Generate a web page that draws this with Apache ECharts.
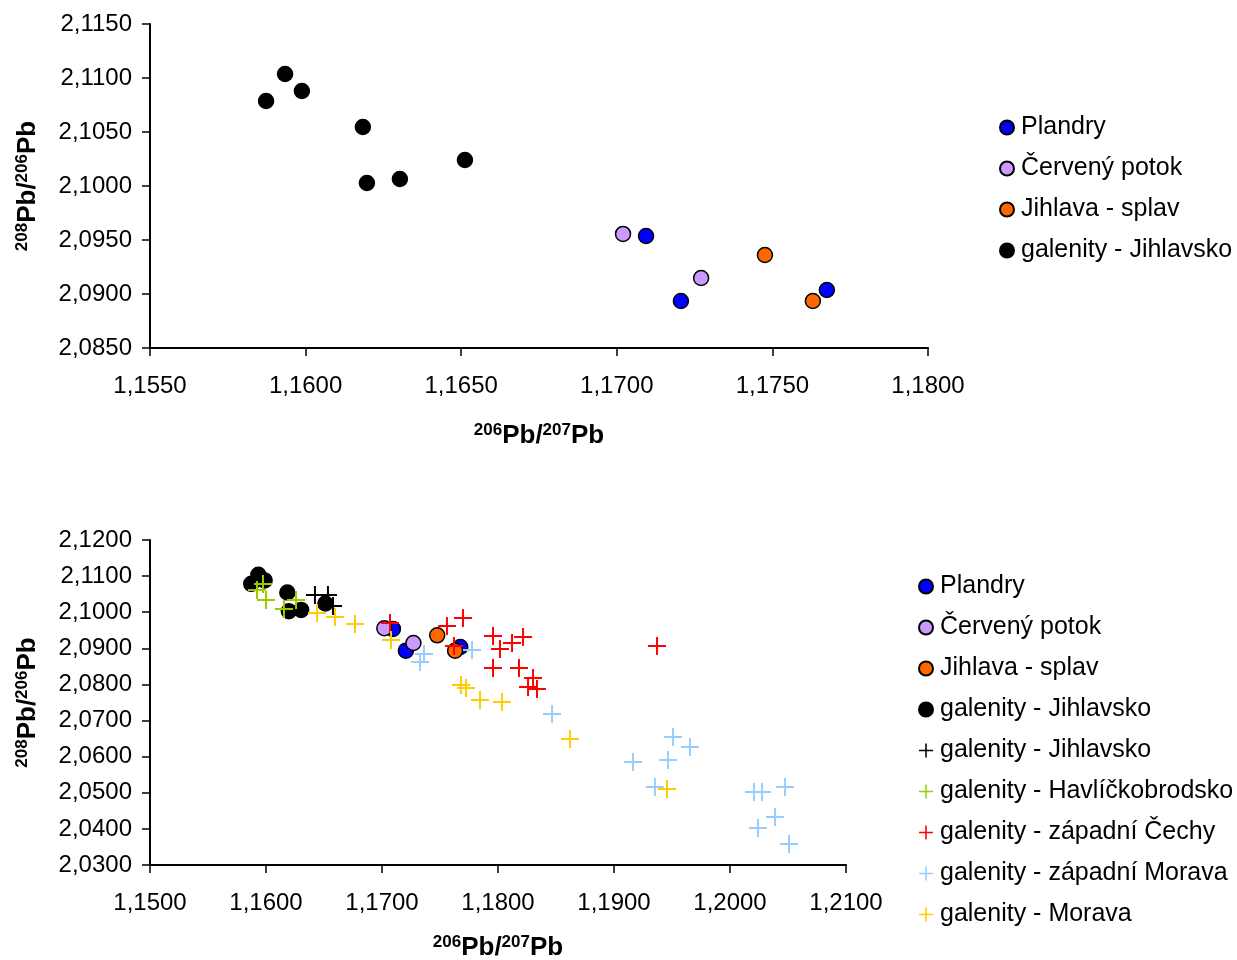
<!DOCTYPE html>
<html>
<head>
<meta charset="utf-8">
<script src="https://cdn.jsdelivr.net/npm/echarts@6/dist/echarts.min.js"></script>
<style>html,body{margin:0;padding:0;background:#fff;}#c{width:1237px;height:960px;}</style>
</head>
<body>
<div id="c"></div>
<script>
// ---- data: [206Pb/207Pb, 208Pb/206Pb] ----
const plandry = [[1.17094, 2.09537], [1.17206, 2.08935], [1.17675, 2.09037]];
const cervenyPotok = [[1.17020, 2.09556], [1.17271, 2.09148]];
const jihlavaSplav = [[1.17476, 2.09361], [1.17630, 2.08935]];
const galenityJihlavskoCircle = [
  [1.15873, 2.10787], [1.15934, 2.11037], [1.15988, 2.10880], [1.16184, 2.10546],
  [1.16197, 2.10028], [1.16303, 2.10065], [1.16512, 2.10241]
];
const galenityJihlavskoPlus = [[1.16422, 2.10476], [1.16534, 2.10476], [1.16578, 2.10172]];
const galenityHavlickobrodsko = [
  [1.15922, 2.10615], [1.15974, 2.10781], [1.16000, 2.10338], [1.16155, 2.10089], [1.16259, 2.10338]
];
const galenityZapadniCechy = [
  [1.17069, 2.09701], [1.17560, 2.09618], [1.17698, 2.09839], [1.17621, 2.09064],
  [1.17957, 2.09341], [1.18017, 2.08981], [1.18121, 2.09147], [1.18216, 2.09313],
  [1.17957, 2.08454], [1.18181, 2.08454], [1.18302, 2.08177], [1.18259, 2.07928],
  [1.18336, 2.07873], [1.19371, 2.09064]
];
const galenityZapadniMorava = [
  [1.17362, 2.08842], [1.17328, 2.08620], [1.17776, 2.08953], [1.18466, 2.07180],
  [1.19509, 2.06543], [1.19655, 2.06266], [1.19164, 2.05850], [1.19466, 2.05906],
  [1.19353, 2.05158], [1.20207, 2.05019], [1.20276, 2.05019], [1.20474, 2.05158],
  [1.20388, 2.04327], [1.20241, 2.04022], [1.20509, 2.03579]
];
const galenityMorava = [
  [1.16440, 2.09978], [1.16595, 2.09867], [1.16767, 2.09673], [1.17078, 2.09230],
  [1.17681, 2.07983], [1.17724, 2.07900], [1.17845, 2.07568], [1.18034, 2.07512],
  [1.18621, 2.06488], [1.19457, 2.05102]
];

const circleNames = ['Plandry', 'Červený potok', 'Jihlava - splav', 'galenity - Jihlavsko'];
const plusNames = ['galenity - Jihlavsko\u200b', 'galenity - Havlíčkobrodsko', 'galenity - západní Čechy', 'galenity - západní Morava', 'galenity - Morava'];
const circleColors = ['#0000ff', '#cc99ff', '#ff6600', '#000000'];
const plusColors = ['#000000', '#99cc00', '#ff0000', '#99ccff', '#ffcc00'];
const circleData = [plandry, cervenyPotok, jihlavaSplav, galenityJihlavskoCircle];
const plusData = [galenityJihlavskoPlus, galenityHavlickobrodsko, galenityZapadniCechy, galenityZapadniMorava, galenityMorava];

// axis ranges
const topX = {min: 1.155, max: 1.18, interval: 0.005};
const topY = {min: 2.085, max: 2.115, interval: 0.005};
const botX = {min: 1.15, max: 1.21, interval: 0.01};
const botY = {min: 2.03, max: 2.12, interval: 0.01};

const FONT = '"Liberation Sans", Arial, sans-serif';
const PLUS = 'path://M0,4.45H10V5.55H0Z M4.45,0H5.55V10H4.45Z';
const fmt = v => v.toFixed(4).replace('.', ',');

const nameRich = {
  s: {fontSize: 17, fontWeight: 'bold', fontFamily: FONT, color: '#000', padding: [0, 0, 11, 0]},
  b: {fontSize: 26, fontWeight: 'bold', fontFamily: FONT, color: '#000'}
};

function xAxis(idx, r, gap) {
  return {
    type: 'value', gridIndex: idx, min: r.min, max: r.max, interval: r.interval,
    name: '{s|206}{b|Pb/}{s|207}{b|Pb}', nameLocation: 'middle', nameGap: gap,
    nameTextStyle: {rich: nameRich},
    axisLine: {show: true, onZero: false, lineStyle: {color: '#000', width: 2}},
    axisTick: {show: true, inside: false, length: 8, lineStyle: {color: '#000', width: 1.5}},
    splitLine: {show: false},
    axisLabel: {formatter: fmt, fontSize: 24, fontFamily: FONT, color: '#000', margin: 26}
  };
}
function yAxis(idx, r) {
  return {
    type: 'value', gridIndex: idx, min: r.min, max: r.max, interval: r.interval,
    name: '{s|208}{b|Pb/}{s|206}{b|Pb}', nameLocation: 'middle', nameGap: 108, nameRotate: 90,
    nameTextStyle: {rich: nameRich},
    axisLine: {show: true, onZero: false, lineStyle: {color: '#000', width: 2}},
    axisTick: {show: true, inside: false, length: 8, lineStyle: {color: '#000', width: 1.5}},
    splitLine: {show: false},
    axisLabel: {formatter: fmt, fontSize: 24, fontFamily: FONT, color: '#000', margin: 18}
  };
}

const series = [];
circleNames.forEach((n, i) => {
  series.push({
    name: n, type: 'scatter', xAxisIndex: 0, yAxisIndex: 0, data: circleData[i],
    symbol: 'circle', symbolSize: 15,
    itemStyle: {color: circleColors[i], borderColor: '#000', borderWidth: 1.5, opacity: 1}
  });
});
circleNames.forEach((n, i) => {
  series.push({
    name: n, type: 'scatter', xAxisIndex: 1, yAxisIndex: 1, data: circleData[i],
    symbol: 'circle', symbolSize: 15,
    itemStyle: {color: circleColors[i], borderColor: '#000', borderWidth: 1.5, opacity: 1}
  });
});
plusNames.forEach((n, i) => {
  series.push({
    name: n, type: 'scatter', xAxisIndex: 1, yAxisIndex: 1, data: plusData[i],
    symbol: PLUS, symbolSize: 18,
    itemStyle: {color: plusColors[i], opacity: 1}
  });
});

const legendBase = {
  orient: 'vertical', itemWidth: 14, itemHeight: 14, itemGap: 16,
  textStyle: {fontSize: 25, fontFamily: FONT, color: '#000', lineHeight: 25, padding: [0, 0, 0, 2]},
  selectedMode: false
};

const chart = echarts.init(document.getElementById('c'), null, {renderer: 'canvas'});
chart.setOption({
  animation: false,
  backgroundColor: '#fff',
  grid: [
    {left: 150, top: 24, width: 778, height: 324, outerBoundsMode: 'none', containLabel: false},
    {left: 150, top: 540, width: 696, height: 325, outerBoundsMode: 'none', containLabel: false}
  ],
  xAxis: [xAxis(0, topX, 74), xAxis(1, botX, 69)],
  yAxis: [yAxis(0, topY), yAxis(1, botY)],
  legend: [
    Object.assign({}, legendBase, {left: 994, top: 110, data: circleNames}),
    Object.assign({}, legendBase, {left: 913, top: 569, data: circleNames.concat(plusNames)})
  ],
  series: series
});
</script>
</body>
</html>
